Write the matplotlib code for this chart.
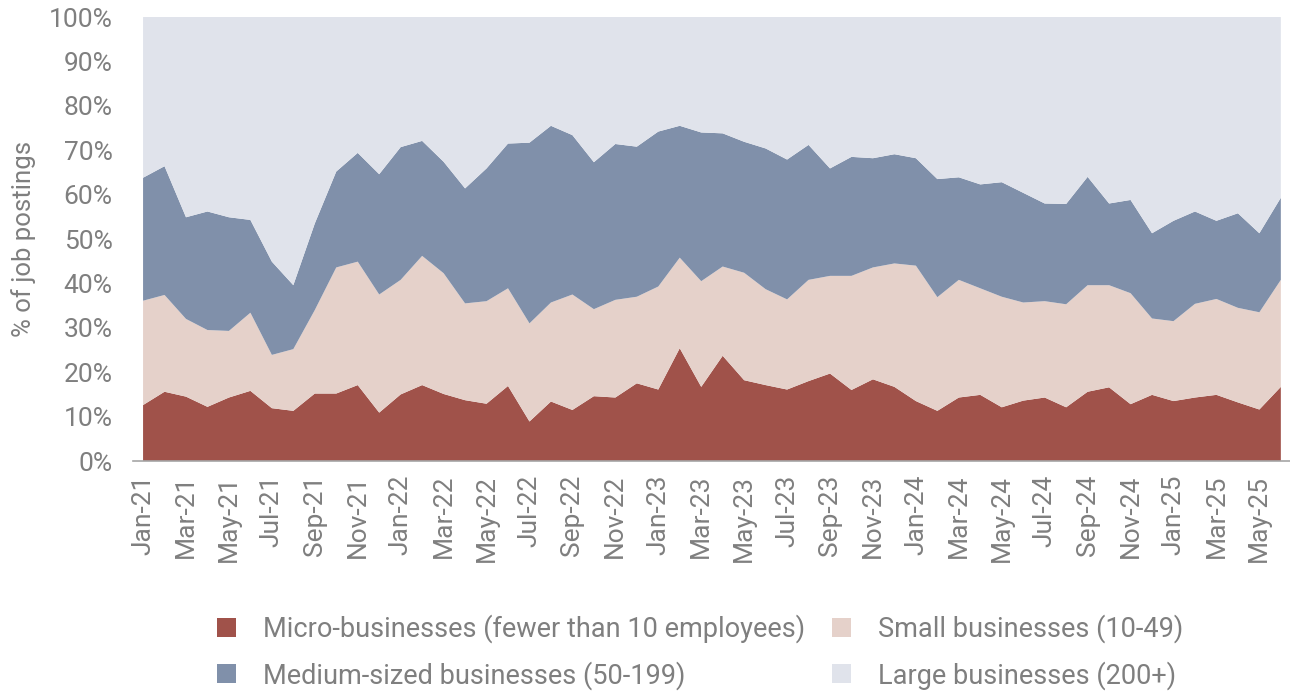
import matplotlib
matplotlib.use("Agg")
import matplotlib.pyplot as plt
from matplotlib.patches import Patch
from matplotlib.ticker import PercentFormatter

plt.rcParams['font.family'] = ['Roboto', 'DejaVu Sans']

months = [f"{m}-{y}" for y in range(21, 26)
          for m in ["Jan", "Feb", "Mar", "Apr", "May", "Jun",
                    "Jul", "Aug", "Sep", "Oct", "Nov", "Dec"]][:54]

# share of job postings by employer size, % (Jan-21 .. Jun-25)
micro = [12.6, 15.6, 14.5, 12.2, 14.3, 15.8, 11.9, 11.3, 15.2, 15.2, 17.1, 10.9,
         15.0, 17.1, 15.1, 13.7, 12.9, 16.9, 8.9, 13.4, 11.5, 14.6, 14.3, 17.5,
         16.1, 25.4, 16.7, 23.7, 18.2, 17.1, 16.1, 18.0, 19.7, 16.0, 18.4, 16.7,
         13.5, 11.3, 14.3, 14.9, 12.1, 13.6, 14.3, 12.1, 15.6, 16.6, 12.8, 14.9,
         13.5, 14.3, 14.9, 13.2, 11.6, 16.7]
small = [23.5, 21.8, 17.5, 17.3, 15.0, 17.6, 12.0, 13.9, 18.8, 28.4, 27.8, 26.6,
         25.8, 29.1, 27.2, 21.8, 23.1, 22.0, 22.1, 22.3, 26.0, 19.6, 22.0, 19.5,
         23.2, 20.4, 23.8, 20.1, 24.2, 21.6, 20.3, 22.8, 22.0, 25.7, 25.2, 27.8,
         30.5, 25.6, 26.5, 24.0, 24.9, 22.1, 21.7, 23.2, 24.0, 23.0, 25.0, 17.2,
         18.0, 21.1, 21.6, 21.3, 21.9, 24.1]
medium = [27.7, 29.0, 22.9, 26.7, 25.6, 20.9, 21.0, 14.4, 19.5, 21.6, 24.5, 27.1,
          29.9, 25.9, 25.1, 25.9, 29.9, 32.6, 40.7, 39.8, 35.9, 33.1, 35.1, 33.8,
          34.9, 29.7, 33.5, 30.0, 29.5, 31.7, 31.5, 30.4, 24.2, 26.8, 24.6, 24.6,
          24.2, 26.6, 23.1, 23.4, 25.8, 24.7, 22.0, 22.6, 24.4, 18.4, 21.0, 19.2,
          22.6, 20.8, 17.6, 21.3, 17.8, 18.5]
large = [36.2, 33.6, 45.1, 43.8, 45.1, 45.7, 55.1, 60.4, 46.5, 34.8, 30.6, 35.4,
         29.3, 27.9, 32.6, 38.6, 34.1, 28.5, 28.3, 24.5, 26.6, 32.7, 28.6, 29.2,
         25.8, 24.5, 26.0, 26.2, 28.1, 29.6, 32.1, 28.8, 34.1, 31.5, 31.8, 30.9,
         31.8, 36.5, 36.1, 37.7, 37.2, 39.6, 42.0, 42.1, 36.0, 42.0, 41.2, 48.7,
         45.9, 43.8, 45.9, 44.2, 48.7, 40.7]

labels = ["Micro-businesses (fewer than 10 employees)",
          "Small businesses (10-49)",
          "Medium-sized businesses (50-199)",
          "Large businesses (200+)"]
colors = ["#a0524a", "#e5d1ca", "#8090aa", "#e0e3eb"]
grey = "#7f7f7f"

fig = plt.figure(figsize=(12.9, 6.92), dpi=100)
ax = fig.add_axes([0.1109, 0.3338, 0.882, 0.6416])

x = list(range(len(months)))
ax.stackplot(x, micro, small, medium, large, colors=colors, linewidth=0)

ax.set_xlim(0, len(months) - 1)
ax.set_ylim(0, 100)
ax.set_yticks(range(0, 101, 10))
ax.yaxis.set_major_formatter(PercentFormatter(decimals=0))
ax.set_xticks(x[::2])
ax.set_xticklabels(months[::2], rotation=90)
ax.tick_params(axis='both', length=0, labelsize=19, labelcolor=grey)
ax.tick_params(axis='y', pad=22)
ax.tick_params(axis='x', pad=10)
ax.set_ylabel("% of job postings", fontsize=18.5, color=grey, labelpad=9)

for side in ["top", "right", "left"]:
    ax.spines[side].set_visible(False)
ax.spines["bottom"].set_color("#a6a6a6")
ax.spines["bottom"].set_linewidth(1.2)
ax.spines["bottom"].set_bounds(-0.47, 53.45)

handles = [Patch(facecolor=c, edgecolor='none') for c in colors]
order = [0, 2, 1, 3]
fig.legend([handles[i] for i in order], [labels[i] for i in order],
           ncol=2, loc="center", bbox_to_anchor=(0.543, 0.058),
           frameon=False, fontsize=19.5, labelcolor=grey,
           handlelength=0.7, handleheight=0.7, handletextpad=1.0,
           columnspacing=1.0, labelspacing=0.66)

fig.savefig("out.png", dpi=100)
